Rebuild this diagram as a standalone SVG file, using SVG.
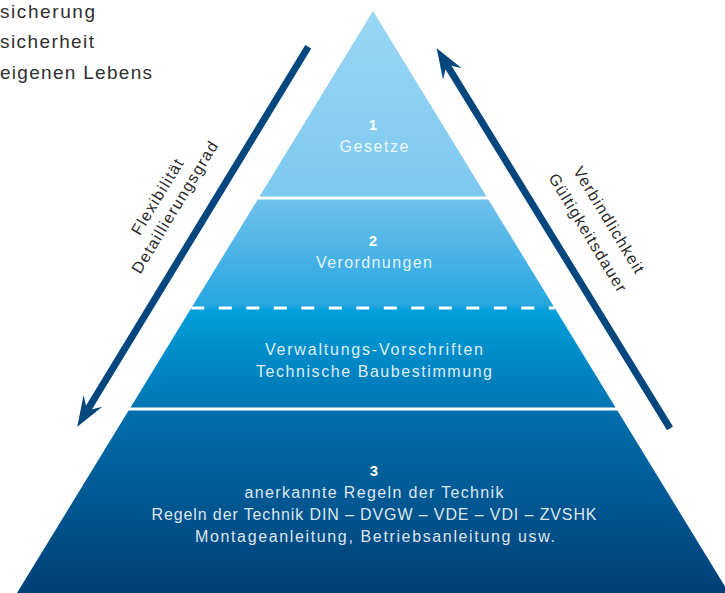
<svg xmlns="http://www.w3.org/2000/svg" width="725" height="593" viewBox="0 0 725 593">
<style>
.side{font-family:"Liberation Sans",Arial,sans-serif;font-size:19px;fill:#2f2f2f;}
.lbl{font-family:"Liberation Sans",Arial,sans-serif;font-size:16px;fill:#ffffff;fill-opacity:0.88;text-anchor:middle;}
.num{font-family:"Liberation Sans",Arial,sans-serif;font-size:15px;font-weight:bold;fill:#ffffff;text-anchor:middle;}
.axis{font-family:"Liberation Sans",Arial,sans-serif;font-size:16px;fill:#2a2a2a;text-anchor:middle;letter-spacing:1.3px;}
.arrow{fill:none;stroke:#04477e;stroke-width:7;marker-end:url(#head);}
.sep{stroke:#ffffff;stroke-width:3;fill:none;}
</style>
<defs>
<linearGradient id="pyr" gradientUnits="userSpaceOnUse" x1="0" y1="11" x2="0" y2="593">
<stop offset="0" stop-color="#9ad6f5"/>
<stop offset="0.316" stop-color="#7dc9ef"/>
<stop offset="0.325" stop-color="#6ec1ec"/>
<stop offset="0.505" stop-color="#27a6e0"/>
<stop offset="0.515" stop-color="#009fdb"/>
<stop offset="0.679" stop-color="#0075b3"/>
<stop offset="0.689" stop-color="#006fac"/>
<stop offset="1" stop-color="#003f77"/>
</linearGradient>
<marker id="head" markerUnits="userSpaceOnUse" viewBox="-20 -15 40 30" refX="0" refY="0" markerWidth="40" markerHeight="30" orient="auto">
<path d="M15,0 L-15,-11 L-4,0 L-15,11 Z" fill="#04477e"/>
</marker>
</defs>

<g id="side-text">
<text class="side" x="0" y="18" textLength="95" lengthAdjust="spacing">sicherung</text>
<text class="side" x="0" y="48" textLength="94" lengthAdjust="spacing">sicherheit</text>
<text class="side" x="0" y="79" textLength="152" lengthAdjust="spacing">eigenen Lebens</text>
</g>

<g id="level1">
<polygon points="373,11 486.5,196.5 259.5,196.5" fill="url(#pyr)"/>
<text class="num" x="373" y="130">1</text>
<text class="lbl" x="374" y="152" textLength="69" lengthAdjust="spacing">Gesetze</text>
</g>

<g id="level2">
<polygon points="257.7,199.5 488.3,199.5 554.7,308 191.3,308" fill="url(#pyr)"/>
<text class="num" x="373" y="246">2</text>
<text class="lbl" x="374" y="268" textLength="116" lengthAdjust="spacing">Verordnungen</text>
</g>

<g id="level2b">
<polygon points="191.3,308 554.7,308 615.5,407.5 130.5,407.5" fill="url(#pyr)"/>
<line class="sep" x1="191.3" y1="308" x2="554.7" y2="308" stroke-dasharray="13 14.5"/>
<text class="lbl" x="374" y="355" textLength="218" lengthAdjust="spacing">Verwaltungs-Vorschriften</text>
<text class="lbl" x="374" y="377" textLength="236" lengthAdjust="spacing">Technische Baubestimmung</text>
</g>

<g id="level3">
<polygon points="128.6,410.5 617.4,410.5 733.3,600 12.7,600" fill="url(#pyr)"/>
<text class="num" x="374" y="476">3</text>
<text class="lbl" x="374" y="498" textLength="259" lengthAdjust="spacing">anerkannte Regeln der Technik</text>
<text class="lbl" x="374" y="520" textLength="445" lengthAdjust="spacing">Regeln der Technik DIN – DVGW – VDE – VDI – ZVSHK</text>
<text class="lbl" x="375" y="542" textLength="360" lengthAdjust="spacing">Montageanleitung, Betriebsanleitung usw.</text>
</g>

<g id="connectors">
<line class="arrow" x1="308.3" y1="46.7" x2="85.1" y2="413.9"/>
<line class="arrow" x1="670" y1="428.3" x2="444.55" y2="61.1"/>
<text class="axis" transform="translate(162.2,199.1) rotate(-58.8)">Flexibilität</text>
<text class="axis" transform="translate(179.7,209.6) rotate(-58.8)">Detaillierungsgrad</text>
<text class="axis" transform="translate(604.4,223.3) rotate(58.8)">Verbindlichkeit</text>
<text class="axis" transform="translate(583.3,236.1) rotate(58.8)">Gültigkeitsdauer</text>
</g>
</svg>
